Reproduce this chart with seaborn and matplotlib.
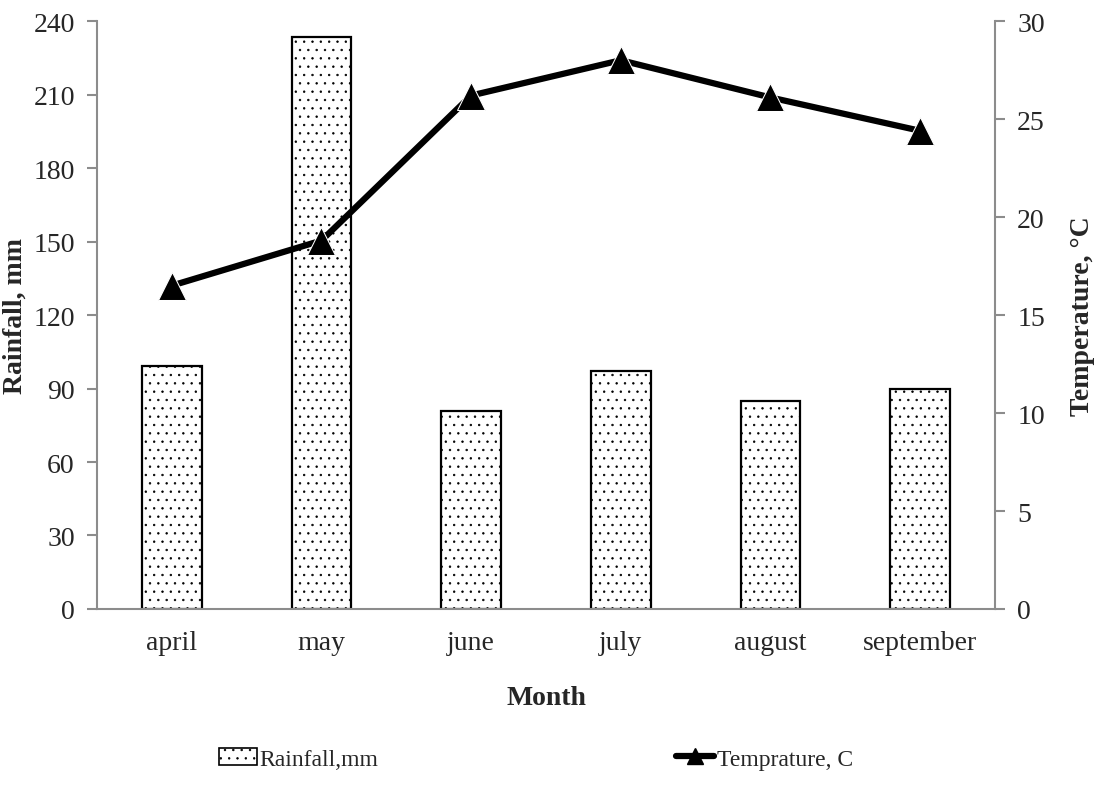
#!/usr/bin/env python3

import matplotlib
matplotlib.use('Agg')
import matplotlib.pyplot as plt
import seaborn as sns
from matplotlib.patches import Patch
from matplotlib.lines import Line2D

months = ['april', 'may', 'june', 'july', 'august', 'september']
rainfall = [99, 233.5, 81, 97, 85, 90]
temperature = [16.5, 18.8, 26.2, 28.0, 26.1, 24.4]

sns.set_style('white')
plt.rcParams['font.family'] = ['Liberation Serif', 'DejaVu Serif']
plt.rcParams['hatch.linewidth'] = 0.5

fig = plt.figure(figsize=(10.96, 8.04), dpi=100)
ax = fig.add_axes([0.0885, 0.2413, 0.8193, 0.7313])

# Rainfall bars
sns.barplot(x=months, y=rainfall, color='white', edgecolor='black',
            linewidth=1.6, width=0.4, hatch='..', ax=ax)
ax.set_ylim(0, 240)
ax.set_yticks(range(0, 241, 30))
ax.set_xlim(-0.5, 5.5)

# Temperature line
ax2 = ax.twinx()
sns.lineplot(x=months, y=temperature, color='black', linewidth=4.5,
             marker='^', markersize=20, sort=False, ax=ax2)
ax2.set_ylim(0, 30)
ax2.set_yticks(range(0, 31, 5))

grey = '#8c8c8c'
for a in (ax, ax2):
    a.spines['top'].set_visible(False)
    for side in ('left', 'right', 'bottom'):
        a.spines[side].set_color(grey)
        a.spines[side].set_linewidth(1.5)
    a.tick_params(axis='y', direction='out', length=7, width=1.5,
                  color=grey, labelsize=20, pad=9)
    a.tick_params(axis='x', length=0, labelsize=20, pad=15)
ax.spines['right'].set_visible(False)
ax2.spines['left'].set_visible(False)
ax2.spines['bottom'].set_visible(False)

ax.set_xlabel('Month', fontsize=20, fontweight='bold', labelpad=22)
ax.set_ylabel('Rainfall, mm', fontsize=20, fontweight='bold', labelpad=4)
ax2.set_ylabel('Temperature, °C', fontsize=20, fontweight='bold', labelpad=18)

handles = [
    Patch(facecolor='white', edgecolor='black', hatch='..', linewidth=1.2),
    Line2D([0], [0], color='black', linewidth=4.5, marker='^', markersize=12),
]
fig.legend(handles, ['Rainfall,mm', 'Temprature, C'], loc='center',
           bbox_to_anchor=(0.489, 0.055), ncol=2, frameon=False,
           fontsize=17, columnspacing=12.6, handlelength=1.6, handletextpad=0.12)

fig.savefig('out.png', dpi=100)
